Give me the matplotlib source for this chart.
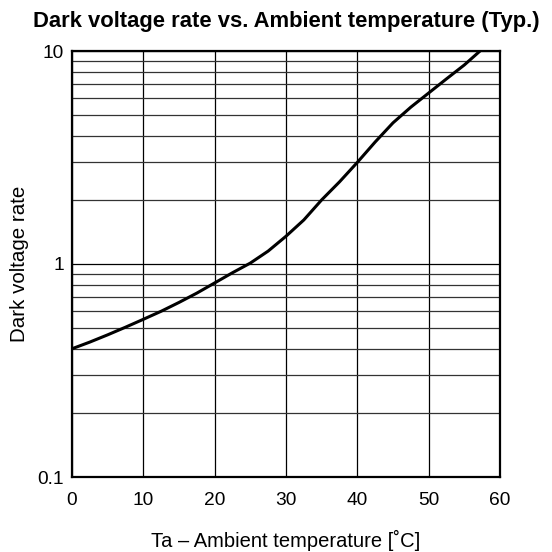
import numpy as np
import matplotlib
matplotlib.use("Agg")
import matplotlib.pyplot as plt
from matplotlib.ticker import FixedLocator, NullFormatter

plt.rcParams['font.family'] = ['Liberation Sans', 'DejaVu Sans']

# curve
temp = [0, 2.5, 5, 7.5, 10, 12.5, 15, 17.5, 20, 22.5, 25, 27.5,
        30, 32.5, 35, 37.5, 40, 42.5, 45, 47.5, 50, 52.5, 55, 57.2]
rate = [0.40, 0.43, 0.465, 0.505, 0.55, 0.60, 0.66, 0.73, 0.815, 0.91, 1.01, 1.15,
        1.35, 1.61, 2.0, 2.43, 3.0, 3.74, 4.6, 5.45, 6.35, 7.4, 8.6, 10.0]

xticks = [0, 10, 20, 30, 40, 50, 60]
yticks = [0.1, 1, 10]
yticklabels = ["0.1", "1", "10"]

fig = plt.figure(figsize=(5.52, 5.52), dpi=100)
ax = fig.add_axes([72/552, 1 - 477/552, 428/552, 426/552])

ax.plot(temp, rate, color="black", linewidth=2.2, solid_joinstyle="round")

ax.set_yscale("log")
ax.set_xlim(0, 60)
ax.set_ylim(0.1, 10)
ax.set_xticks(xticks)
ax.set_yticks(yticks)
ax.set_yticklabels(yticklabels)
minor = [m * d for d in (0.1, 1) for m in range(2, 10)]
ax.yaxis.set_minor_locator(FixedLocator(minor))
ax.yaxis.set_minor_formatter(NullFormatter())

ax.grid(True, which="major", color="black", linewidth=0.9)
ax.grid(True, which="minor", axis="y", color="#333333", linewidth=0.9)
ax.tick_params(which="both", length=0, labelsize=13.8)
ax.tick_params(axis="x", pad=11)
ax.tick_params(axis="y", pad=6)
for s in ax.spines.values():
    s.set_linewidth(1.6)

ax.set_title("Dark voltage rate vs. Ambient temperature (Typ.)",
             fontsize=15.8, fontweight="bold", pad=17)
ax.set_xlabel("Ta – Ambient temperature [˚C]", fontsize=14.5)
ax.set_ylabel("Dark voltage rate", fontsize=14.8)
ax.xaxis.set_label_coords(0.5, -0.125)
ax.yaxis.set_label_coords(-0.100, 0.5)

fig.savefig("out.png", dpi=100)
